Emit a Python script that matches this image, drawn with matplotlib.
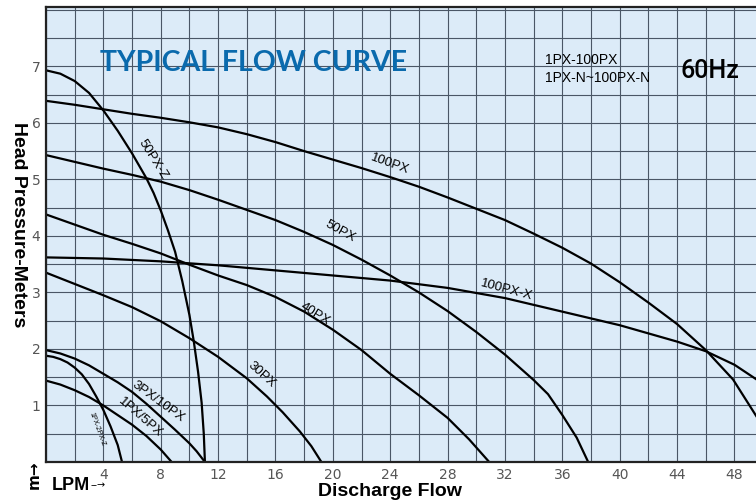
import numpy as np
import matplotlib
matplotlib.use("Agg")
import matplotlib.pyplot as plt
from matplotlib.ticker import MultipleLocator, FixedLocator

# curva de cada bomba: vazao (LPM) x altura (m)
px50z_x = [0, 1, 2, 3, 4, 5, 6, 7, 7.5, 8, 8.5, 9, 9.5, 10, 10.3, 10.6, 10.85, 11.0, 11.08]
px50z_y = [6.93, 6.87, 6.74, 6.53, 6.22, 5.86, 5.46, 5.02, 4.76, 4.45, 4.1, 3.72, 3.2, 2.6, 2.14, 1.6, 1.05, 0.5, 0]

px100_x = [0, 2, 4, 6, 8, 10, 12, 14, 16, 18, 20, 22, 24, 26, 28, 30, 32, 34, 36, 38, 40, 42, 44, 46, 47.9, 49.6]
px100_y = [6.39, 6.32, 6.24, 6.16, 6.09, 6.01, 5.92, 5.80, 5.66, 5.50, 5.35, 5.20, 5.04, 4.87, 4.68, 4.48,
           4.28, 4.04, 3.79, 3.51, 3.18, 2.82, 2.44, 1.98, 1.46, 0.78]

px50_x = [0, 2, 4, 6, 8, 10, 12, 14, 16, 18, 20, 22, 24, 26, 28, 30, 32, 34, 35, 36, 37, 37.8]
px50_y = [5.43, 5.31, 5.19, 5.08, 4.96, 4.81, 4.64, 4.46, 4.28, 4.07, 3.84, 3.58, 3.30, 3.0, 2.67, 2.3,
          1.9, 1.45, 1.2, 0.83, 0.43, 0]

px100x_x = [0, 4, 8, 12, 16, 20, 24, 28, 32, 36, 40, 44, 46, 48, 49.6]
px100x_y = [3.62, 3.6, 3.55, 3.48, 3.39, 3.30, 3.21, 3.08, 2.9, 2.66, 2.42, 2.13, 1.96, 1.72, 1.45]

px40_x = [0, 2, 4, 6, 8, 10, 12, 14, 16, 18, 20, 22, 24, 26, 28, 29.5, 30.9]
px40_y = [4.38, 4.2, 4.02, 3.86, 3.69, 3.49, 3.3, 3.13, 2.92, 2.66, 2.34, 1.98, 1.56, 1.18, 0.78, 0.4, 0]

px30_x = [0, 2, 4, 6, 8, 10, 12, 14, 15.4, 16.5, 17.7, 18.5, 19.2]
px30_y = [3.35, 3.15, 2.95, 2.74, 2.49, 2.19, 1.86, 1.48, 1.16, 0.88, 0.54, 0.28, 0]

px3_10_x = [0, 1, 2, 3, 4, 5, 6, 7, 8, 9, 10, 10.5, 11.08]
px3_10_y = [1.98, 1.92, 1.83, 1.71, 1.56, 1.41, 1.24, 1.03, 0.8, 0.57, 0.33, 0.19, 0]

px1_2z_x = [0, 0.5, 1, 1.5, 2, 2.5, 3, 3.5, 4, 4.5, 5, 5.3]
px1_2z_y = [1.88, 1.86, 1.82, 1.76, 1.67, 1.55, 1.38, 1.16, 0.92, 0.63, 0.3, 0]

px1_5_x = [0, 1, 2, 3, 4, 5, 6, 7, 8, 8.76]
px1_5_y = [1.44, 1.37, 1.27, 1.15, 1.0, 0.83, 0.66, 0.46, 0.22, 0]

curvas = [
    (px50z_x, px50z_y), (px100_x, px100_y), (px50_x, px50_y),
    (px100x_x, px100x_y), (px40_x, px40_y), (px30_x, px30_y),
    (px3_10_x, px3_10_y), (px1_2z_x, px1_2z_y), (px1_5_x, px1_5_y),
]

# rotulos: texto, x, y, angulo, tamanho
rotulos = [
    ("50PX-Z", 7.45, 5.36, -58, 9.5),
    ("100PX", 24.0, 5.28, -20, 9.5),
    ("50PX", 20.5, 4.09, -29, 9.5),
    ("100PX-X", 32.1, 3.05, -15, 9.5),
    ("40PX", 18.75, 2.61, -32, 9.5),
    ("30PX", 15.0, 1.55, -42, 9.5),
    ("3PX/10PX", 7.83, 1.07, -36, 9.5),
    ("1PX/5PX", 6.55, 0.78, -41, 9.5),
    ("1PX-2PX-Z", 3.53, 0.57, -70, 5),
]

fig = plt.figure(figsize=(7.56, 5.04), dpi=100)
ax = fig.add_axes([46 / 756, 42 / 504, 710 / 756, 455 / 504])
ax.set_facecolor("#dcebf8")
ax.set_xlim(0, 49.5)  # a direita o grafico e cortado
ax.set_ylim(0, 8.05)

ax.xaxis.set_major_locator(FixedLocator(np.arange(4, 49, 4)))
ax.xaxis.set_minor_locator(MultipleLocator(2))
ax.yaxis.set_major_locator(FixedLocator(np.arange(1, 8, 1)))
ax.yaxis.set_minor_locator(MultipleLocator(0.5))
ax.grid(which="both", color="#4a5666", linewidth=0.8)
ax.set_axisbelow(True)
ax.tick_params(which="both", length=0, colors="#555555", labelsize=10, pad=4)

for s in ["left", "bottom", "top"]:
    ax.spines[s].set_linewidth(1.6)
    ax.spines[s].set_color("#222222")
ax.spines["right"].set_visible(False)

for cx, cy in curvas:
    ax.plot(cx, cy, color="black", linewidth=1.6, solid_capstyle="butt")

for texto, x, y, ang, tam in rotulos:
    ax.text(x, y, texto, rotation=ang, fontsize=tam, family="Liberation Sans",
            ha="center", va="center", rotation_mode="anchor")

fig.text(100 / 756, 1 - 63 / 504, "TYPICAL FLOW CURVE", family="Lato", weight="bold",
         fontsize=20.5, color="#0a6aad", va="center", ha="left")
fig.text(545 / 756, 1 - 60 / 504, "1PX-100PX", family="Liberation Sans", fontsize=10, va="center")
fig.text(545 / 756, 1 - 78 / 504, "1PX-N~100PX-N", family="Liberation Sans", fontsize=10, va="center")
fig.text(680 / 756, 1 - 71 / 504, "60Hz", family="Roboto", weight="medium", fontsize=18, va="center")

fig.text(18 / 756, 1 - 225 / 504, "Head Pressure-Meters", rotation=-90, family="Liberation Sans",
         weight="bold", fontsize=14, ha="center", va="center")
fig.text(390 / 756, 1 - 491 / 504, "Discharge Flow", family="Liberation Sans",
         weight="bold", fontsize=14, ha="center", va="center")
fig.text(52 / 756, 1 - 485 / 504, "LPM", family="Liberation Sans",
         weight="bold", fontsize=13, ha="left", va="center")
fig.text(91 / 756, 1 - 485 / 504, "--\u2192", family="DejaVu Sans", fontsize=7, ha="left", va="center")
fig.text(34 / 756, 1 - 475 / 504, "m\u2192", rotation=90, family="DejaVu Sans",
         weight="bold", fontsize=11, ha="center", va="center")

fig.savefig("out.png", dpi=100)
